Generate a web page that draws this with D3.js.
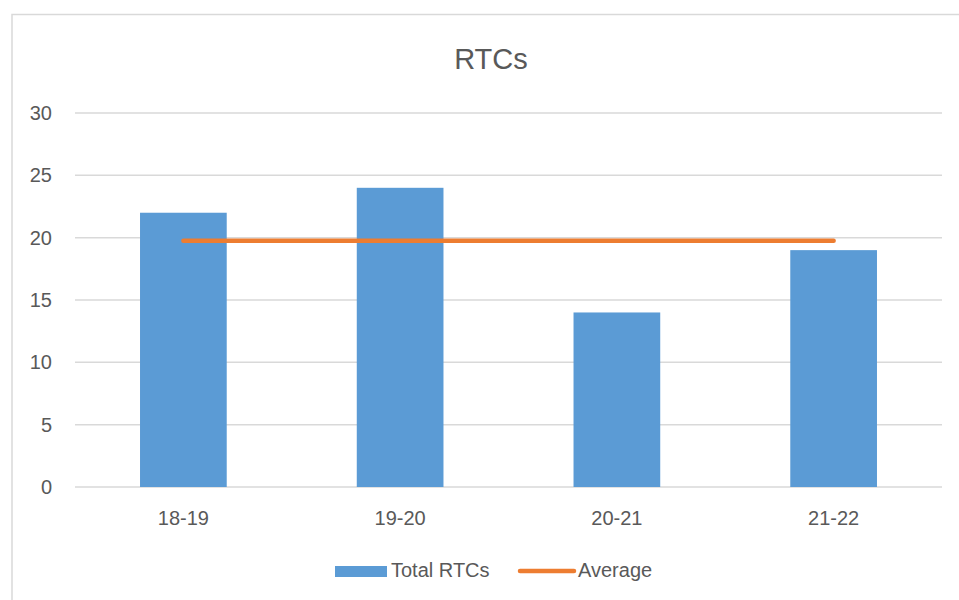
<!DOCTYPE html>
<html lang="en">
	<head>
		<meta charset="UTF-8">
		<title>RTCs</title>
		<script src="https://cdnjs.cloudflare.com/ajax/libs/d3/7.8.5/d3.min.js"></script>
		<style>
			body {margin: 0; background: #fff;}
			text {font-family: "Liberation Sans", Arial, sans-serif; fill: #595959;}
		</style>
		<script>
var years = ["18-19", "19-20", "20-21", "21-22"];
var totalRTCs = [22, 24, 14, 19];
var average = [19.75, 19.75, 19.75, 19.75];
var yTicks = [0, 5, 10, 15, 20, 25, 30];

function makeChart() {
	var svg = d3.select("#chart").attr("width", 959).attr("height", 600);

	// chart frame
	svg.append("rect")
		.attr("x", 12).attr("y", 14.5).attr("width", 960).attr("height", 600)
		.attr("fill", "#fff").attr("stroke", "#d9d9d9").attr("stroke-width", 1.5);

	var left = 75, right = 942, top = 113, bottom = 487;

	var x = d3.scaleBand().domain(years).range([left, right]);
	var y = d3.scaleLinear().domain([0, 30]).range([bottom, top]);

	svg.append("g").selectAll("line")
		.data(yTicks).join("line")
		.attr("x1", left).attr("x2", right)
		.attr("y1", function(d) {return y(d);}).attr("y2", function(d) {return y(d);})
		.attr("stroke", "#d9d9d9").attr("stroke-width", 1.5);

	svg.append("g").selectAll("text")
		.data(yTicks).join("text")
		.attr("x", 52).attr("y", function(d) {return y(d) + 7;})
		.attr("text-anchor", "end").attr("font-size", 20)
		.text(function(d) {return d;});

	var bw = x.bandwidth() * 0.4;
	svg.append("g").selectAll("rect")
		.data(totalRTCs).join("rect")
		.attr("x", function(d, i) {return x(years[i]) + x.bandwidth()/2 - bw/2;})
		.attr("y", function(d) {return y(d);})
		.attr("width", bw)
		.attr("height", function(d) {return y(0) - y(d);})
		.attr("fill", "#5b9bd5");

	svg.append("g").selectAll("text")
		.data(years).join("text")
		.attr("x", function(d) {return x(d) + x.bandwidth()/2;})
		.attr("y", 525)
		.attr("text-anchor", "middle").attr("font-size", 20)
		.text(function(d) {return d;});

	var line = d3.line()
		.x(function(d, i) {return x(years[i]) + x.bandwidth()/2;})
		.y(function(d) {return y(d);});
	svg.append("path")
		.datum(average)
		.attr("d", line)
		.attr("fill", "none").attr("stroke", "#ed7d31")
		.attr("stroke-width", 4.5).attr("stroke-linecap", "round");

	svg.append("text")
		.attr("x", 491).attr("y", 69)
		.attr("text-anchor", "middle").attr("font-size", 29)
		.text("RTCs");

	// legend
	var lg = svg.append("g");
	lg.append("rect").attr("x", 335).attr("y", 566).attr("width", 52).attr("height", 11).attr("fill", "#5b9bd5");
	lg.append("text").attr("x", 391).attr("y", 577).attr("font-size", 20).text("Total RTCs");
	lg.append("line").attr("x1", 520).attr("x2", 574).attr("y1", 571).attr("y2", 571)
		.attr("stroke", "#ed7d31").attr("stroke-width", 4.5).attr("stroke-linecap", "round");
	lg.append("text").attr("x", 578).attr("y", 577).attr("font-size", 20).text("Average");
}
		</script>
	</head>
	<body onload="makeChart()">
		<svg id="chart"></svg>
	</body>
</html>
